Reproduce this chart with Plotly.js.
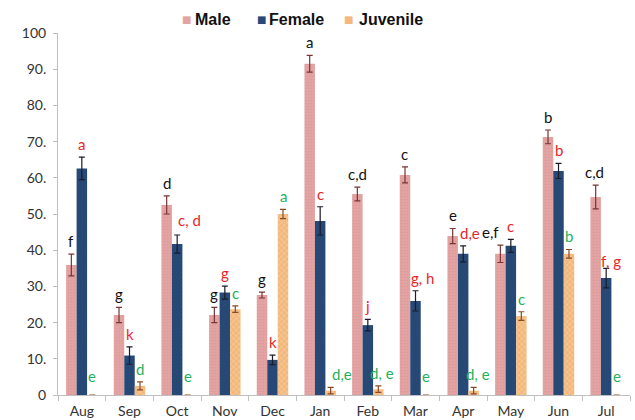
<!DOCTYPE html>
<html>
<head>
<meta charset="utf-8">
<script src="https://cdn.plot.ly/plotly-3.0.1.min.js"></script>
<style>html,body{margin:0;padding:0;background:#fff;}#chart{width:635px;height:420px;}</style>
</head>
<body>
<div id="chart"></div>
<script>
const months = ['Aug','Sep','Oct','Nov','Dec','Jan','Feb','Mar','Apr','May','Jun','Jul'];
const maleMean = [35.9,22.1,52.5,22.1,27.6,91.5,55.5,60.8,43.9,39.0,71.3,54.7];
const maleErr = [3.0,2.1,2.5,2.1,0.8,2.3,1.9,2.2,2.1,2.4,1.9,3.3];
const femaleMean = [62.6,10.9,41.7,28.3,9.7,48.1,19.3,26.0,39.0,41.2,61.9,32.3];
const femaleErr = [3.1,2.4,2.5,1.8,1.3,3.9,1.6,2.8,2.2,1.8,2.1,2.7];
const juvMean = [0,2.5,0,23.7,50.0,1.2,1.6,0,1.2,21.8,39.0,0];
const juvErr = [null,1.1,null,0.9,1.3,0.9,0.9,null,0.9,1.2,1.2,null];
const maleLabels = ['f','g','d','g','g','a','c,d','c','e','e,f','b','c,d'];
const femaleLabels = ['a','k','c, d','g','k','c','j','g, h','d,e','c','b','f, g'];
const juvLabels = ['e','d','e','c','a','d,e','d, e','e','d, e','c','b','e'];
const seriesNames = ['Male','Female','Juvenile'];

// label placement tweaks (pixels): [series, monthIndex, dx, dy]
const nudges = [[1,2,12,2],[2,5,11,0],[2,6,4,0],[2,8,4,0],[1,8,7,0],[0,9,-10,0],[1,7,7,0],[1,11,5,-6],[0,11,-1,0]];

const colors = ['#e3a3a3','#274a78','#f2b87c'];
const errColors = ['#7a3434','#1b1b2a','#8a4a24'];
const bw = 10.6; // px between bar centers

const means = [maleMean, femaleMean, juvMean];
const errs = [maleErr, femaleErr, juvErr];
const labels = [maleLabels, femaleLabels, juvLabels];
const labelColors = ['#111111','#e8262a','#1fb25a'];

const patterns = [
  {shape:'.', fgcolor:'#d48f8f', size:3, solidity:0.25, fillmode:'overlay'},
  {shape:'x', fgcolor:'#1a355a', size:3, solidity:0.2, fillmode:'overlay'},
  {shape:'x', fgcolor:'#fbe3c6', size:4, solidity:0.3, fillmode:'overlay'}
];

const traces = seriesNames.map((n,s)=>({
  type:'bar', name:n, x:months, y:means[s],
  marker:{color:colors[s], line:{width:0}, pattern:patterns[s]},
  error_y:{type:'data', array:errs[s], visible:true, color:errColors[s], thickness:1.2, width:3},
  hoverinfo:'skip', showlegend:false
}));

const annotations = [];
for (let s=0;s<3;s++){
  for (let i=0;i<months.length;i++){
    let top = means[s][i] + (errs[s][i] || 0);
    let dx = (s-1)*bw, dy = 2;
    if (means[s][i] === 0) dy = 8;
    nudges.forEach(nd=>{ if(nd[0]===s && nd[1]===i){dx+=nd[2]; dy+=nd[3];} });
    annotations.push({
      x: months[i], y: top, xref:'x', yref:'y', text: labels[s][i], showarrow:false,
      xanchor:'center', yanchor:'bottom', xshift:dx, yshift:dy,
      font:{family:'Lato, "Open Sans", sans-serif', size:15, color:labelColors[s]}
    });
  }
}

// custom legend (pixel positions across the figure)
const plotL = 58, plotW = 572;
const legendMarkerPx = [186, 261, 348];
const legendTextPx = [193, 267, 357];
seriesNames.forEach((n,s)=>{
  annotations.push({xref:'paper', yref:'paper', x:(legendMarkerPx[s]-plotL)/plotW, y:1.036,
    text:'■', showarrow:false, xanchor:'center', yanchor:'middle',
    font:{family:'"DejaVu Sans", sans-serif', size:10, color:colors[s]}});
  annotations.push({xref:'paper', yref:'paper', x:(legendTextPx[s]-plotL)/plotW, y:1.036,
    text:'<b>'+n+'</b>', showarrow:false, xanchor:'left', yanchor:'middle',
    font:{family:'"Liberation Sans", Arial, sans-serif', size:16, color:'#111'}});
});

const yTicks = [0,10,20,30,40,50,60,70,80,90,100];
const yTickText = ['0','10.','20.','30.','40.','50.','60.','70.','80.','90.','100'];

const layout = {
  width:635, height:420,
  margin:{l:58, r:5, t:33, b:25},
  paper_bgcolor:'#ffffff', plot_bgcolor:'#ffffff',
  barmode:'group', bargap:0.34, bargroupgap:0,
  showlegend:false,
  xaxis:{type:'category', showline:true, linecolor:'#bfbfbf', linewidth:1,
    ticks:'outside', tickson:'boundaries', ticklen:5, tickcolor:'#bfbfbf',
    tickfont:{family:'Lato, "Open Sans", sans-serif', size:14, color:'#333333'},
    ticklabelstandoff:3,
    showgrid:false, zeroline:false, fixedrange:true},
  yaxis:{range:[0,100], showline:true, linecolor:'#bfbfbf', linewidth:1,
    ticks:'outside', ticklen:4, tickcolor:'#bfbfbf', tickvals:yTicks, ticktext:yTickText,
    tickfont:{family:'Lato, "Open Sans", sans-serif', size:14, color:'#333333'},
    ticklabelstandoff:4,
    showgrid:false, zeroline:false, fixedrange:true},
  annotations:annotations
};

Plotly.newPlot('chart', traces, layout, {displayModeBar:false, staticPlot:true});
</script>
</body>
</html>
